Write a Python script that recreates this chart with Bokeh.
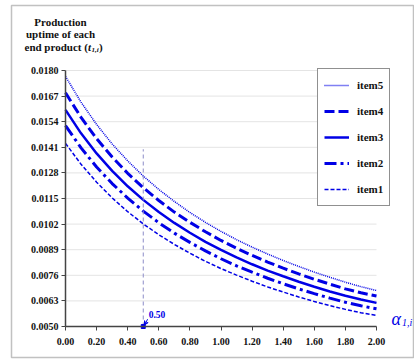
from bokeh.plotting import figure
from bokeh.models import (FixedTicker, PrintfTickFormatter, Label, Legend, LegendItem,
                          BoxAnnotation, Arrow, VeeHead)
from bokeh.embed import file_html
from bokeh.resources import INLINE

alpha = [0.0, 0.1, 0.2, 0.3, 0.4, 0.5, 0.6, 0.7, 0.8, 0.9, 1.0,
         1.1, 1.2, 1.3, 1.4, 1.5, 1.6, 1.7, 1.8, 1.9, 2.0]
item5 = [0.01770, 0.01639, 0.01526, 0.01427, 0.01341, 0.01264, 0.01196, 0.01135, 0.01079, 0.01029, 0.00983,
         0.00941, 0.00903, 0.00868, 0.00835, 0.00805, 0.00776, 0.00750, 0.00725, 0.00702, 0.00683]
item4 = [0.01687, 0.01562, 0.01454, 0.01361, 0.01278, 0.01205, 0.01140, 0.01081, 0.01029, 0.00981, 0.00937,
         0.00897, 0.00861, 0.00827, 0.00796, 0.00767, 0.00740, 0.00715, 0.00691, 0.00671, 0.00655]
item3 = [0.01600, 0.01481, 0.01379, 0.01290, 0.01212, 0.01143, 0.01081, 0.01026, 0.00976, 0.00930, 0.00889,
         0.00851, 0.00816, 0.00784, 0.00755, 0.00727, 0.00702, 0.00678, 0.00656, 0.00637, 0.00620]
item2 = [0.01520, 0.01407, 0.01310, 0.01226, 0.01152, 0.01086, 0.01027, 0.00974, 0.00927, 0.00884, 0.00844,
         0.00808, 0.00776, 0.00745, 0.00717, 0.00691, 0.00667, 0.00644, 0.00623, 0.00605, 0.00590]
item1 = [0.01430, 0.01324, 0.01233, 0.01153, 0.01083, 0.01021, 0.00966, 0.00917, 0.00872, 0.00831, 0.00794,
         0.00761, 0.00730, 0.00701, 0.00675, 0.00650, 0.00627, 0.00606, 0.00587, 0.00570, 0.00556]

x_ticks = [0.0, 0.2, 0.4, 0.6, 0.8, 1.0, 1.2, 1.4, 1.6, 1.8, 2.0]
y_ticks = [0.0050, 0.0063, 0.0076, 0.0089, 0.0102, 0.0115, 0.0128, 0.0141, 0.0154, 0.0167, 0.0180]

marker_x = 0.5
marker_y_top = 0.0140
marker_label = "0.50"

BLUE = "#0000E6"
SERIF = "Liberation Serif"

W, H = 414, 362
# pixel placement of the axes inside the canvas (frame spans the whole canvas)
X0_PX, X2_PX = 65.0, 376.0
YTOP_PX, YBOT_PX = 70.0, 326.0
xs = (X2_PX - X0_PX) / (x_ticks[-1] - x_ticks[0])
ys = (YBOT_PX - YTOP_PX) / (y_ticks[-1] - y_ticks[0])
x_range = (x_ticks[0] - X0_PX / xs, x_ticks[-1] + (W - X2_PX) / xs)
y_range = (y_ticks[0] - (H - YBOT_PX) / ys, y_ticks[-1] + YTOP_PX / ys)

p = figure(width=W, height=H, output_backend="svg", toolbar_location=None,
           x_range=x_range, y_range=y_range,
           min_border=0, min_border_left=0, min_border_right=0,
           min_border_top=0, min_border_bottom=0)
p.outline_line_color = None
p.background_fill_color = "white"
p.border_fill_color = "white"

# outer frame
p.add_layout(BoxAnnotation(left=11, right=413, bottom=5, top=357,
                           left_units="screen", right_units="screen",
                           bottom_units="screen", top_units="screen",
                           fill_color=None, line_color="#333333", line_width=1.5, level="underlay"))

# horizontal gridlines between the axis ends
p.segment(x0=[x_ticks[0]] * len(y_ticks), x1=[x_ticks[-1]] * len(y_ticks), y0=y_ticks, y1=y_ticks,
          line_color="#E4E4E4", line_width=1, level="underlay")

r5 = p.line(alpha, item5, line_color=BLUE, line_width=1.5, line_dash="1 1")
r4 = p.line(alpha, item4, line_color=BLUE, line_width=3, line_dash="10 4")
r3 = p.line(alpha, item3, line_color=BLUE, line_width=2.5)
r2 = p.line(alpha, item2, line_color=BLUE, line_width=3, line_dash="12 4 3 4")
r1 = p.line(alpha, item1, line_color=BLUE, line_width=1.5, line_dash="4 2")

p.line([marker_x, marker_x], [y_ticks[0], marker_y_top], line_color="#8C8CC8", line_width=1, line_dash="4 3")
p.scatter([marker_x], [y_ticks[0]], marker="square", size=4, color=BLUE)
p.add_layout(Arrow(end=VeeHead(size=4, line_color=BLUE, fill_color=BLUE, line_width=1),
                   x_start=0.528, y_start=0.00537, x_end=marker_x + 0.008, y_end=0.00507,
                   line_color=BLUE, line_width=1))
p.add_layout(Label(x=0.535, y=0.00562, text=marker_label, text_font=SERIF, text_font_style="bold",
                   text_font_size="9.5px", text_color=BLUE, text_baseline="middle"))

# axes placed inside the frame
p.xaxis.fixed_location = y_ticks[0]
p.yaxis.fixed_location = x_ticks[0]
p.xaxis.bounds = (x_ticks[0], x_ticks[-1])
p.yaxis.bounds = (y_ticks[0], y_ticks[-1])
for ax in (p.xaxis[0], p.yaxis[0]):
    ax.axis_line_color = "#444444"
    ax.axis_line_width = 1.5
    ax.major_tick_line_color = "#444444"
    ax.major_tick_out = 4
    ax.major_tick_in = 0
    ax.minor_tick_line_color = None
    ax.major_label_text_font = SERIF
    ax.major_label_text_font_style = "bold"
    ax.major_label_text_font_size = "10px"
    ax.major_label_text_color = "#111111"
p.xaxis.ticker = FixedTicker(ticks=x_ticks)
p.yaxis.ticker = FixedTicker(ticks=y_ticks)
p.xaxis.formatter = PrintfTickFormatter(format="%.2f")
p.yaxis.formatter = PrintfTickFormatter(format="%.4f")
p.xaxis.major_label_standoff = 7
p.yaxis.major_label_standoff = 3
p.xgrid.grid_line_color = None
p.ygrid.grid_line_color = None

# y title (top-left)
tkw = dict(x_units="screen", y_units="screen", text_font=SERIF, text_font_style="bold",
           text_font_size="11px", text_color="#111111", text_baseline="middle")
p.add_layout(Label(x=60, y=H - 21, text="Production", text_align="center", **tkw))
p.add_layout(Label(x=60, y=H - 33, text="uptime of each", text_align="center", **tkw))
p.add_layout(Label(x=24, y=H - 46, text="end product (", text_align="left", **tkw))
p.add_layout(Label(x=87.5, y=H - 46, text="t", text_align="left",
                   **{**tkw, "text_font_style": "bold italic"}))
p.add_layout(Label(x=91, y=H - 49, text="1,i", text_align="left",
                   **{**tkw, "text_font_style": "bold italic", "text_font_size": "7px"}))
p.add_layout(Label(x=98.5, y=H - 46, text=")", text_align="left", **tkw))

# x title (right of axis)
p.add_layout(Label(x=391, y=H - 318, text="α", text_align="left", text_baseline="middle",
                   x_units="screen", y_units="screen", text_font=SERIF, text_font_style="italic",
                   text_font_size="18px", text_color=BLUE))
p.add_layout(Label(x=401.5, y=H - 322, text="1,i", text_align="left", text_baseline="middle",
                   x_units="screen", y_units="screen", text_font=SERIF, text_font_style="italic",
                   text_font_size="10px", text_color=BLUE))

legend = Legend(items=[LegendItem(label="item5", renderers=[r5]),
                       LegendItem(label="item4", renderers=[r4]),
                       LegendItem(label="item3", renderers=[r3]),
                       LegendItem(label="item2", renderers=[r2]),
                       LegendItem(label="item1", renderers=[r1])],
                location=(317, H - 206), orientation="vertical",
                label_text_font=SERIF, label_text_font_style="bold", label_text_font_size="11px",
                label_text_color="#111111", glyph_width=25, glyph_height=20, label_height=20,
                spacing=6, padding=6, margin=0, label_standoff=8,
                border_line_color="#222222", border_line_width=1.5, background_fill_color="white",
                background_fill_alpha=1.0)
p.add_layout(legend)

open("out.html", "w").write(file_html(p, INLINE))
